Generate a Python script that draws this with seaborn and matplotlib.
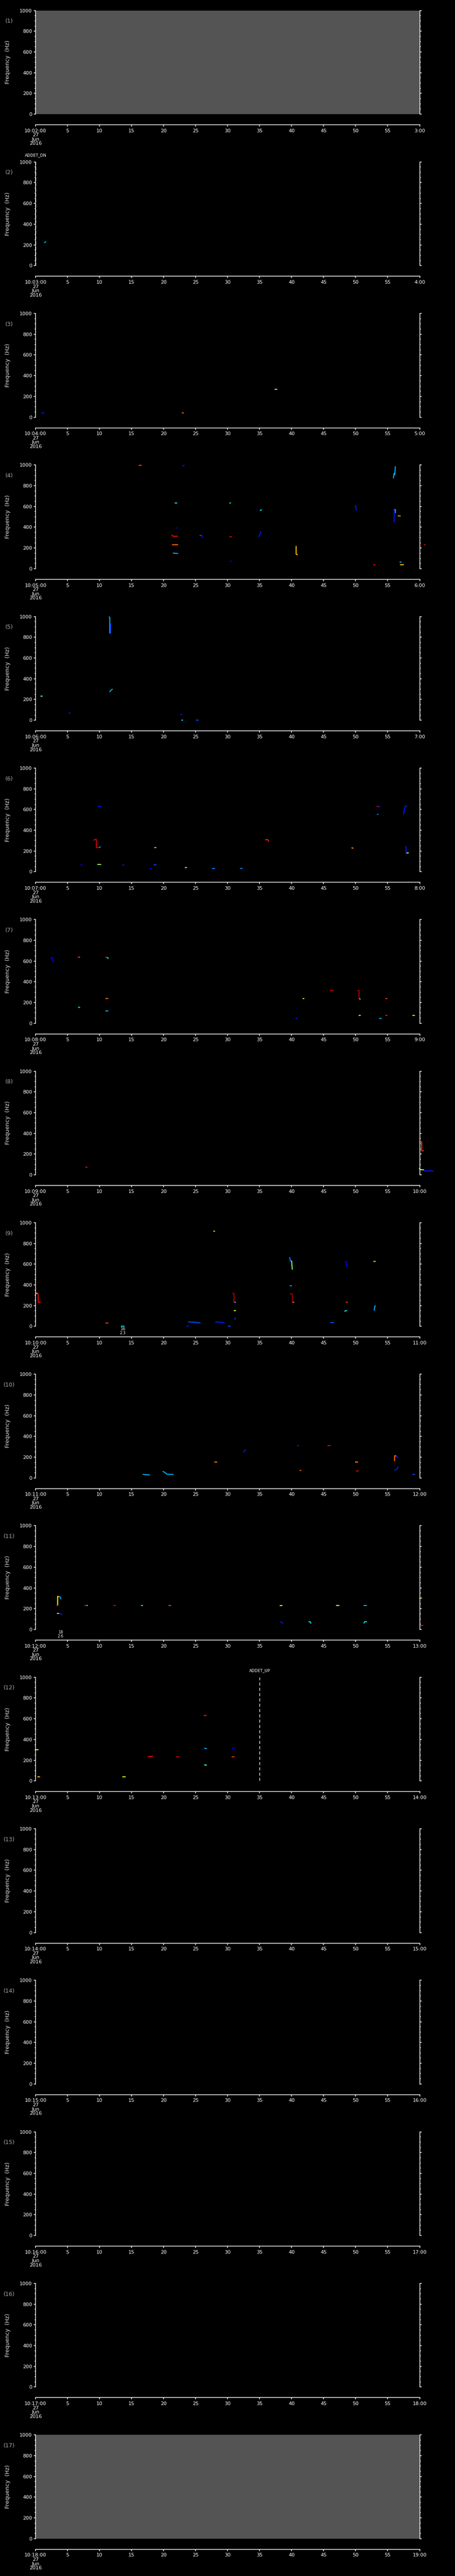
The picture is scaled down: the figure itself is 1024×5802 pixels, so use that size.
import matplotlib
matplotlib.use("Agg")
import matplotlib.pyplot as plt
import seaborn as sns
import pandas as pd
from matplotlib.ticker import MultipleLocator, FixedLocator

sns.set_style("ticks", {"axes.facecolor": "black", "figure.facecolor": "black"})
plt.rcParams["font.family"] = ["DejaVu Sans"]

# one panel per minute, 10:02 .. 10:18 on 27 Jun 2016
START_MINUTES = list(range(2, 19))
NO_DATA_PANELS = [1, 17]
FREQ_TICKS = [0, 200, 400, 600, 800, 1000]
SEC_TICKS = list(range(0, 61, 5))

# traces: (seconds, frequency Hz, intensity 0..1 on the jet scale)
P2 = [([1.4, 1.6], [222, 230], 0.3)]
P3 = [
    ([1.0, 1.3], [43, 43], 0.15),
    ([22.9, 23.1], [43, 43], 0.8),
    ([37.4, 37.7], [266, 266], 0.55),
]
P4 = [
    ([16.2, 16.5], [997, 997], 0.85),
    ([23.0, 23.2], [990, 997], 0.15),
    ([55.9, 56.0, 56.1, 56.2], [875, 920, 905, 985], 0.3),
    ([21.8, 22.1], [632, 632], 0.35),
    ([30.3, 30.5], [632, 632], 0.35),
    ([35.1, 35.3], [562, 568], 0.35),
    ([49.9, 50.0, 50.1], [606, 606, 565], 0.15),
    ([56.0, 56.0], [450, 567], 0.15),
    ([56.1, 56.2, 56.2], [567, 567, 537], 0.3),
    ([56.6, 57.0], [511, 511], 0.75),
    ([21.9, 22.1], [395, 395], 0.12),
    ([21.3, 21.5, 22.2], [325, 313, 313], 0.9),
    ([25.7, 25.9], [319, 319], 0.9),
    ([25.9, 26.0, 26.0], [316, 316, 300], 0.12),
    ([30.3, 30.6], [309, 309], 0.9),
    ([34.9, 35.2], [309, 357], 0.15),
    ([21.4, 22.2], [231, 231], 0.8),
    ([21.5, 22.2], [150, 147], 0.3),
    ([40.7, 40.7, 40.9], [216, 140, 135], 0.7),
    ([30.4, 30.6], [73, 73], 0.12),
    ([52.8, 53.0], [37, 37], 0.9),
    ([56.9, 57.1], [62, 62], 0.3),
    ([57.0, 57.5], [37, 37], 0.7),
    ([60.7, 60.9], [231, 231], 0.9),
]
P5 = [
    ([11.5, 11.6, 11.6], [997, 990, 840], 0.3),
    ([11.7, 11.7], [930, 840], 0.15),
    ([11.6, 11.8, 12.0], [275, 290, 298], 0.3),
    ([0.85, 1.05], [232, 232], 0.45),
    ([5.2, 5.4], [71, 71], 0.15),
    ([22.7, 22.8], [56, 56], 0.15),
    ([22.8, 23.0], [0, 0], 0.35),
    ([25.1, 25.4], [0, 0], 0.2),
]
P6 = [
    ([9.8, 10.1], [630, 630], 0.15),
    ([53.3, 53.5], [630, 630], 0.95),
    ([53.5, 53.8], [628, 628], 0.15),
    ([53.4, 53.5], [553, 553], 0.25),
    ([57.5, 57.6, 57.8, 58.0], [558, 605, 634, 634], 0.15),
    ([9.1, 9.3, 9.5, 9.5, 9.9], [305, 312, 312, 233, 233], 0.92),
    ([9.9, 10.1], [233, 240], 0.3),
    ([18.6, 18.8], [232, 232], 0.7),
    ([35.9, 36.3, 36.4], [309, 309, 293], 0.88),
    ([49.4, 49.6], [230, 228], 0.75),
    ([57.8, 57.9, 57.9], [241, 241, 172], 0.15),
    ([58.0, 58.2], [180, 180], 0.65),
    ([7.1, 7.3], [68, 68], 0.12),
    ([9.7, 10.2], [71, 70], 0.55),
    ([13.6, 13.8], [60, 68], 0.15),
    ([18.5, 18.8], [68, 68], 0.2),
    ([17.9, 18.1], [30, 30], 0.12),
    ([23.4, 23.6], [42, 42], 0.6),
    ([27.6, 28.0], [34, 34], 0.25),
    ([32.0, 32.3], [34, 34], 0.25),
]
P7 = [
    ([2.4, 2.6, 2.7], [631, 631, 600], 0.12),
    ([6.6, 6.8], [636, 636], 0.9),
    ([6.8, 6.9], [638, 638], 0.55),
    ([11.0, 11.2], [636, 636], 0.9),
    ([11.2, 11.3, 11.3], [634, 634, 624], 0.35),
    ([11.0, 11.3], [237, 237], 0.8),
    ([6.7, 6.9], [156, 152], 0.35),
    ([11.0, 11.3], [117, 117], 0.3),
    ([46.0, 46.5], [314, 314], 0.95),
    ([50.3, 50.5, 50.5], [318, 318, 237], 0.95),
    ([50.6, 50.7], [237, 233], 0.55),
    ([41.8, 41.9], [237, 237], 0.65),
    ([54.7, 54.9], [237, 237], 0.85),
    ([50.5, 50.7], [74, 74], 0.6),
    ([54.7, 54.9], [74, 74], 0.88),
    ([58.9, 59.2], [74, 74], 0.6),
    ([40.7, 40.9], [44, 44], 0.15),
    ([53.7, 54.0], [44, 44], 0.3),
]
P8 = [
    ([7.85, 8.0], [73, 73], 0.9),
    ([8.0, 8.2], [73, 73], 0.12),
    ([60.0, 60.3, 60.3, 60.6], [316, 316, 232, 232], 0.85),
    ([59.95, 60.2, 60.6], [59, 49, 49], 0.6),
    ([60.6, 60.8, 61.4, 61.6, 62.1], [49, 37, 37, 40, 35], 0.15),
]
P9 = [
    ([27.8, 28.0], [917, 917], 0.6),
    ([39.7, 39.8, 40.0], [665, 630, 630], 0.25),
    ([40.0, 40.1], [630, 550], 0.5),
    ([48.4, 48.5, 48.6], [625, 625, 579], 0.12),
    ([52.8, 53.1], [627, 627], 0.72),
    ([39.8, 40.0], [391, 391], 0.3),
    ([0.05, 0.3], [319, 319], 0.65),
    ([0.3, 0.4, 0.4, 0.75], [316, 316, 233, 233], 0.9),
    ([30.8, 31.0, 31.0], [319, 316, 233], 0.95),
    ([31.0, 31.2], [233, 233], 0.35),
    ([39.8, 40.1, 40.1], [314, 314, 233], 0.97),
    ([40.1, 40.3], [233, 233], 0.72),
    ([48.5, 48.7], [231, 231], 0.85),
    ([48.3, 48.4, 48.6], [145, 150, 152], 0.35),
    ([52.9, 53.0, 53.1], [155, 195, 196], 0.3),
    ([31.0, 31.2], [152, 152], 0.62),
    ([31.1, 31.2], [70, 78], 0.2),
    ([11.0, 11.3], [33, 33], 0.85),
    ([13.4, 13.8], [0, 0], 0.35),
    ([23.9, 24.4, 24.8, 25.2, 25.7], [43, 40, 40, 37, 33], 0.2),
    ([23.7, 23.9], [0, 0], 0.15),
    ([28.1, 28.8, 29.5], [43, 40, 33], 0.15),
    ([30.1, 30.4], [0, 0], 0.2),
    ([46.1, 46.6], [37, 37], 0.2),
]
P10 = [
    ([40.9, 41.1], [312, 312], 0.15),
    ([45.7, 46.0], [309, 309], 0.9),
    ([32.5, 32.7, 32.8], [249, 262, 269], 0.15),
    ([28.0, 28.3], [151, 151], 0.78),
    ([56.1, 56.1, 56.3], [167, 212, 212], 0.8),
    ([56.3, 56.6], [212, 196], 0.15),
    ([50.0, 50.3], [151, 151], 0.75),
    ([41.3, 41.4], [72, 72], 0.8),
    ([50.1, 50.4], [69, 69], 0.9),
    ([56.1, 56.5, 56.6], [75, 85, 107], 0.15),
    ([16.8, 17.5, 17.8], [34, 29, 29], 0.3),
    ([19.9, 20.2, 20.5, 21.5], [61, 53, 35, 33], 0.3),
    ([58.9, 59.2], [34, 34], 0.2),
]
P11 = [
    ([3.45, 3.45, 3.6], [231, 319, 316], 0.65),
    ([3.75, 3.8, 3.95], [316, 316, 294], 0.3),
    ([3.3, 3.55], [231, 231], 0.9),
    ([7.7, 7.9], [231, 231], 0.9),
    ([7.9, 8.1], [229, 229], 0.35),
    ([12.2, 12.5], [231, 231], 0.92),
    ([16.5, 16.7], [229, 229], 0.35),
    ([20.8, 21.1], [231, 231], 0.85),
    ([38.2, 38.5], [229, 231], 0.62),
    ([47.0, 47.4], [231, 231], 0.58),
    ([51.3, 51.7], [231, 231], 0.3),
    ([60.0, 60.3], [300, 303], 0.55),
    ([60.2, 60.5], [39, 39], 0.9),
    ([3.4, 3.6], [154, 154], 0.62),
    ([3.6, 3.9, 4.1], [154, 154, 140], 0.15),
    ([38.3, 38.5, 38.6], [74, 66, 59], 0.15),
    ([42.7, 42.9, 43.0], [74, 74, 59], 0.35),
    ([51.3, 51.4, 51.7], [61, 74, 74], 0.35),
]
P12 = [
    ([26.3, 26.7], [630, 633], 0.9),
    ([0.05, 0.4], [302, 302], 0.6),
    ([26.4, 26.7], [315, 312], 0.3),
    ([30.7, 30.9, 31.1], [307, 318, 318], 0.12),
    ([17.6, 18.3], [235, 238], 0.9),
    ([22.0, 22.4], [234, 234], 0.92),
    ([30.7, 31.0], [234, 234], 0.85),
    ([26.4, 26.7], [155, 152], 0.45),
    ([0.35, 0.6], [41, 41], 0.7),
    ([13.6, 14.0], [41, 41], 0.6),
]
PANEL_TRACES = {2: P2, 3: P3, 4: P4, 5: P5, 6: P6, 7: P7, 8: P8,
                9: P9, 10: P10, 11: P11, 12: P12}

# event markers (panel, seconds, name)
EVENTS = [(2, 0.0, "ADDET_DN"), (12, 35.0, "ADDET_UP")]
# small notes under the frequency axis (panel, seconds, text)
NOTES = [(9, 13.6, "16\n2.3"), (11, 3.9, "18\n2.6")]

rows = []
for panel, traces in PANEL_TRACES.items():
    for j, (ts, fs, lv) in enumerate(traces):
        for t, f in zip(ts, fs):
            rows.append({"panel": panel, "track": j, "t": t, "f": f, "level": lv})
df = pd.DataFrame(rows)

jet = plt.get_cmap("jet")

W, H = 1024, 5802
fig = plt.figure(figsize=(W / 100, H / 100), dpi=100, facecolor="black")
slot = H / len(START_MINUTES)
left, width = 80, 864.5
top_off, ax_h = 23.5, 233.5

for i, minute in enumerate(START_MINUTES):
    panel = i + 1
    top = i * slot + top_off
    ax = fig.add_axes([left / W, 1 - (top + ax_h) / H, width / W, ax_h / H])
    ax.set_facecolor("#545454" if panel in NO_DATA_PANELS else "black")

    sub = df[df["panel"] == panel]
    if len(sub):
        sns.lineplot(data=sub, x="t", y="f", hue="level", palette=jet,
                     hue_norm=(0, 1), units="track", estimator=None, sort=False,
                     legend=False, linewidth=1.6, clip_on=False, ax=ax)

    for ev_panel, ev_t, ev_name in EVENTS:
        if ev_panel == panel:
            ax.axvline(ev_t, color="white", linewidth=1.0, dashes=(5, 3.6))
            ax.annotate(ev_name, xy=(ev_t, 1), xycoords=("data", "axes fraction"),
                        xytext=(0, 11), textcoords="offset points",
                        ha="center", va="center", fontsize=6.5, color="white",
                        annotation_clip=False)
    for n_panel, n_t, n_text in NOTES:
        if n_panel == panel:
            ax.annotate(n_text, xy=(n_t, 0), xycoords="data",
                        xytext=(0, -1.5), textcoords="offset points",
                        ha="center", va="top", fontsize=6, color="white",
                        linespacing=1.0, annotation_clip=False)

    ax.set_xlim(0, 60)
    ax.set_ylim(0, 1000)
    ax.grid(False)

    for side in ["left", "right", "bottom"]:
        ax.spines[side].set_visible(True)
        ax.spines[side].set_color("white")
        ax.spines[side].set_linewidth(1.1)
    ax.spines["top"].set_visible(False)
    ax.spines["bottom"].set_position(("outward", 17.3))

    ax.yaxis.set_major_locator(FixedLocator(FREQ_TICKS))
    ax.yaxis.set_minor_locator(MultipleLocator(50))
    ax.tick_params(axis="y", which="both", direction="out", left=True, right=True,
                   labelleft=True, labelright=False, colors="white", width=1.1)
    ax.tick_params(axis="y", which="major", length=3.2, pad=2.5, labelsize=8)
    ax.tick_params(axis="y", which="minor", length=1.6)

    end_label = f"{minute + 1}:00"
    xlabels = [f"10:{minute:02d}:00\n27\nJun\n2016"] + [str(s) for s in SEC_TICKS[1:-1]] + [end_label]
    ax.set_xticks(SEC_TICKS)
    ax.set_xticklabels(xlabels)
    ax.tick_params(axis="x", which="both", direction="out", bottom=True, top=False,
                   colors="white", length=3.2, width=1.1, pad=3, labelsize=8)
    for lab in ax.get_xticklabels():
        lab.set_linespacing(0.95)

    ax.set_xlabel("")
    ax.set_ylabel("Frequency  (Hz)", color="#dddddd", fontsize=9)
    ax.yaxis.set_label_coords(-(left - 24) / width, 0.5)
    ax.text(-(left - 21) / width, 1 - (47.7 - top_off) / ax_h, f"({panel})",
            transform=ax.transAxes, ha="center", va="center",
            fontsize=9, color="#a8a8a8")

fig.savefig("out.png", dpi=100, facecolor="black")
